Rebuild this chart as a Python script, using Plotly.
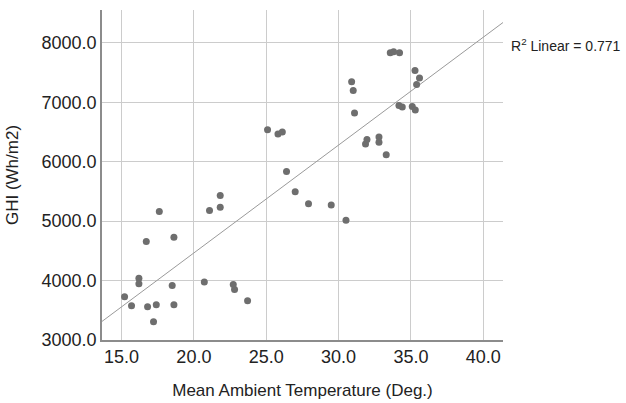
import numpy as np
import plotly.graph_objects as go

temp = [15.21, 15.69, 16.20, 16.20, 16.71, 16.80, 17.21, 17.40, 17.61, 18.50,
        18.62, 18.62, 20.72, 21.08, 21.82, 21.82, 22.72, 22.81, 23.71,
        25.09, 25.81, 26.11, 26.40, 27.00, 27.92, 29.49, 30.51,
        30.90, 31.01, 31.10, 31.86, 31.96, 32.79, 32.79, 33.29,
        33.57, 33.80, 34.21, 34.17, 34.40, 35.09, 35.30, 35.28, 35.39, 35.59]
ghi = [3727, 3576, 4040, 3945, 4656, 3559, 3307, 3592, 5164, 3918,
       4728, 3592, 3978, 5181, 5433, 5232, 3935, 3851, 3660,
       6540, 6468, 6502, 5836, 5495, 5294, 5270, 5013,
       7346, 7200, 6820, 6300, 6372, 6418, 6327, 6116,
       7832, 7849, 7832, 6948, 6921, 6931, 6871, 7535, 7300, 7408]

x_ticks = [15, 20, 25, 30, 35, 40]
y_ticks = [3000, 4000, 5000, 6000, 7000, 8000]
x_range = [13.65, 41.36]
y_range = [3000, 8553]
r2_text = "R<sup>2</sup> Linear = 0.771"

slope, intercept = np.polyfit(temp, ghi, 1)
fit_x = np.array(x_range)
fit_y = slope * fit_x + intercept

fig = go.Figure()
fig.add_trace(go.Scatter(x=list(fit_x), y=list(fit_y), mode="lines",
                         line=dict(color="#9a9a9a", width=1), hoverinfo="skip",
                         showlegend=False, cliponaxis=False))
fig.add_trace(go.Scatter(x=temp, y=ghi, mode="markers",
                         marker=dict(color="#6e6e6e", size=7), showlegend=False))

font = "Liberation Sans, Arial, sans-serif"
fig.update_layout(
    width=626, height=403,
    margin=dict(l=102, r=123, t=10, b=63),
    plot_bgcolor="white", paper_bgcolor="white",
    font=dict(family=font, color="#222222", size=18),
    xaxis=dict(range=x_range, tickvals=x_ticks, tickformat=".1f",
               automargin=False,
               showgrid=True, gridcolor="#cccccc", gridwidth=1,
               showline=True, linecolor="#8c8c8c", linewidth=1.5,
               zeroline=False, ticks="", ticklen=0,
               tickfont=dict(size=18),
               title=dict(text="Mean Ambient Temperature (Deg.)", standoff=18,
                          font=dict(size=17))),
    yaxis=dict(range=y_range, tickvals=y_ticks, tickformat=".1f",
               automargin=False,
               showgrid=True, gridcolor="#cccccc", gridwidth=1,
               showline=True, linecolor="#8c8c8c", linewidth=1.5,
               zeroline=False, ticks="", ticklen=0,
               tickfont=dict(size=18),
               title=dict(text="GHI (Wh/m2)", standoff=19, font=dict(size=17))),
    annotations=[dict(text=r2_text, xref="paper", yref="paper",
                      x=(623 - 102) / 401, y=(7966 - 3000) / 5553,
                      xanchor="right", yanchor="middle",
                      showarrow=False, font=dict(size=14, family=font, color="#222222"))],
)
fig.write_html("out.html", config={"displayModeBar": False},
               post_script="document.body.style.margin='0';")
